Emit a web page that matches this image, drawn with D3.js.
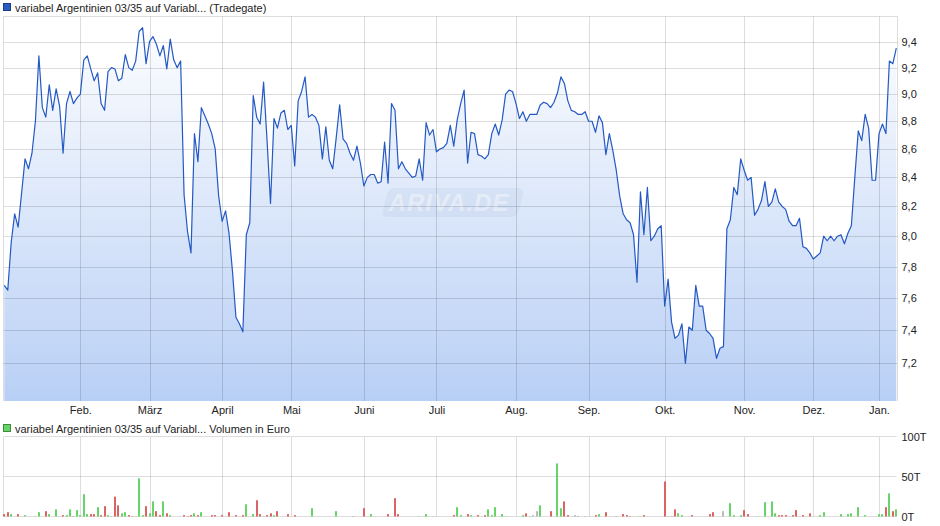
<!DOCTYPE html>
<html><head><meta charset="utf-8">
<script src="https://cdn.jsdelivr.net/npm/d3@7"></script>
<style>body{margin:0;background:#fff}svg{display:block;font-family:"Liberation Sans",Arial,sans-serif}</style>
</head><body><svg id="c" width="940" height="526"></svg>
<script>
// Daily prices (one per trading day)
const prices = [
7.68,7.65,7.96,8.15,8.06,8.29,8.53,8.46,8.57,8.80,
9.29,8.90,8.83,9.07,8.88,9.04,8.91,8.57,8.93,9.02,
8.93,8.97,9.00,9.26,9.29,9.19,9.10,9.16,8.93,8.88,
9.17,9.20,9.19,9.10,9.12,9.30,9.20,9.18,9.25,9.48,
9.51,9.23,9.40,9.44,9.38,9.29,9.37,9.19,9.42,9.26,
9.20,9.25,8.28,8.03,7.89,8.71,8.51,8.90,8.84,8.78,
8.71,8.60,8.27,8.10,8.17,8.02,7.77,7.48,7.44,7.39,
8.01,8.09,8.99,8.83,8.78,9.09,8.66,8.22,8.82,8.75,
8.86,8.88,8.74,8.77,8.48,8.95,9.02,9.13,8.83,8.85,
8.83,8.77,8.53,8.76,8.52,8.46,8.68,8.92,8.67,8.64,
8.57,8.52,8.62,8.50,8.34,8.40,8.42,8.42,8.36,8.37,
8.65,8.36,8.93,8.88,8.46,8.51,8.46,8.43,8.40,8.41,
8.53,8.38,8.79,8.70,8.74,8.58,8.60,8.61,8.64,8.77,
8.62,8.81,8.93,9.03,8.50,8.72,8.71,8.56,8.55,8.53,
8.56,8.71,8.78,8.70,8.81,9.00,9.03,9.02,8.93,8.82,
8.87,8.80,8.85,8.85,8.85,8.92,8.94,8.93,8.90,8.94,
9.01,9.13,9.08,8.95,8.88,8.87,8.85,8.85,8.87,8.80,
8.80,8.72,8.84,8.79,8.56,8.71,8.59,8.45,8.27,8.15,
8.11,8.09,8.01,7.70,8.30,8.01,8.33,7.97,8.00,8.05,
8.07,7.55,7.72,7.45,7.35,7.37,7.44,7.20,7.42,7.40,
7.68,7.55,7.55,7.40,7.38,7.35,7.23,7.29,7.30,8.05,
8.11,8.33,8.28,8.53,8.45,8.38,8.40,8.14,8.18,8.24,
8.37,8.20,8.23,8.32,8.23,8.20,8.18,8.10,8.07,8.07,
8.12,7.93,7.92,7.89,7.85,7.87,7.89,8.00,7.97,8.00,
7.97,8.00,8.01,7.95,8.02,8.07,8.40,8.73,8.66,8.85,
8.75,8.38,8.38,8.71,8.78,8.71,9.25,9.23,9.35
];
// Month labels and the trading-day index where each month starts
const monthLabels = ["Feb.","März","April","Mai","Juni","Juli","Aug.","Sep.","Okt.","Nov.","Dez.","Jan."];
const monthIdx = [22,42,63,83,104,125,148,169,191,214,234,253];
const yTicks = [7.2,7.4,7.6,7.8,8.0,8.2,8.4,8.6,8.8,9.0,9.2,9.4];
// Volume (thousand euro) on trading days with turnover; u=up, d=down, n=unchanged
const volIdx = [0,1,2,4,6,9,10,12,13,15,17,18,19,20,21,22,23,24,25,26,27,28,29,30,31,32,33,34,35,36,37,38,39,40,41,42,43,44,45,46,47,48,52,53,54,55,56,57,60,61,63,65,67,69,70,72,73,74,75,76,77,78,79,82,84,89,96,101,104,106,111,113,114,120,122,124,130,131,132,134,135,137,139,140,141,142,144,145,150,151,152,153,154,155,158,160,161,162,163,165,166,168,171,172,174,177,179,180,181,184,185,191,192,193,194,195,196,199,204,205,208,210,211,213,214,215,218,220,222,223,224,225,226,228,229,231,233,236,237,242,244,245,247,249,253,254,255,256,257,258];
const volVal = [3,5.4,3,3,1.7,0.4,5.4,6.7,3,9,1.7,1.7,9,0.4,8,1.7,28,3,3,3,11.7,1.7,13,1.7,0.4,25,14,4,5.4,1.7,0.4,0.4,48,1.7,13,4,19,6.7,1.7,19,4,1.7,1.7,0.4,1.7,4,1.7,5.4,1.7,1.7,1.7,5.4,1.7,1.7,15.4,3,20.4,3,0.4,1.7,4,1.7,6.7,3,1.7,10.4,6.7,0.4,10.4,3,3,23,3,0.4,3,0.4,1.7,11.7,1.7,3,1.7,1.7,1.7,9,1.7,11.7,3,0.4,1.7,4,0.4,1.7,6.7,14,6.7,66.7,10.4,19,1.7,1.7,0.4,0.4,1.7,3,5.4,0.4,3,1.7,0.4,0.4,1.7,44,0.4,0.4,9,4,1.7,1.7,3,5.4,6.7,16.7,1.7,1.7,8,3,0.4,18,19,4,1.7,1.7,1.7,1.7,8,1.7,4,1.7,5.4,3,3,4,11.7,1.7,3,3,11.7,29,6.7,9];
const volDir = ["d","d","u","d","u","u","u","d","u","u","d","u","u","d","u","u","u","u","d","d","u","d","d","u","u","d","d","u","u","d","d","u","u","u","d","u","u","d","d","u","d","u","d","d","d","u","d","u","d","d","d","d","d","d","u","u","d","d","u","d","d","u","d","d","d","u","u","d","d","u","d","d","d","u","u","u","d","u","u","d","u","d","d","u","u","u","u","u","u","d","u","n","n","u","d","u","u","d","d","n","d","u","d","u","d","d","d","d","d","u","d","d","u","d","d","u","u","d","d","d","n","u","u","u","d","d","u","u","u","u","d","d","d","d","d","d","d","u","u","u","u","u","u","u","u","u","d","u","d","u"];
const volTicks = [0,50,100];

const svg = d3.select("#c");
const L = 3.5, R = 897.5, T = 16.5, B = 401;
const VT = 437, VB = 516.5;
const x = d3.scaleLinear().domain([0, prices.length - 1]).range([4.3, 896.3]);
const y = d3.scaleLog().domain([7.2, 9.4]).range([363.3, 41.7]);
const yv = d3.scaleLinear().domain([0, 100]).range([VB, VT]);
const snap = v => Math.round(v) + 0.5;
const gridCol = "#000", gridOp = 0.135;

const defs = svg.append("defs");
const grad = defs.append("linearGradient").attr("id", "fillg")
  .attr("gradientUnits", "userSpaceOnUse").attr("x1", 0).attr("x2", 0).attr("y1", T).attr("y2", B);
grad.append("stop").attr("offset", 0).attr("stop-color", "#ffffff");
grad.append("stop").attr("offset", 1).attr("stop-color", "#b8cff5");

// area
svg.append("path").datum(prices)
  .attr("d", d3.area().x((d, i) => x(i)).y0(B).y1(d => y(d)))
  .attr("fill", "url(#fillg)");

// watermark
const wm = svg.append("g").attr("transform", "translate(451,202)");
wm.append("rect").attr("x", -66).attr("y", -14).attr("width", 136).attr("height", 29).attr("rx", 6)
  .attr("transform", "skewX(-14)").attr("fill", "#aebfda").attr("opacity", 0.18);
wm.append("text").attr("x", -2).attr("y", 9).attr("text-anchor", "middle")
  .attr("font-size", 24).attr("font-weight", "bold").attr("font-style", "italic")
  .attr("fill", "#ffffff").attr("opacity", 0.4).attr("letter-spacing", 1).text("ARIVA.DE");

// main grid
const g = svg.append("g");
g.selectAll(".hg").data(yTicks).enter().append("line")
  .attr("x1", L).attr("x2", R).attr("y1", d => snap(y(d))).attr("y2", d => snap(y(d)))
  .attr("stroke", gridCol).attr("stroke-opacity", gridOp);
g.selectAll(".vg").data(monthIdx).enter().append("line")
  .attr("x1", d => snap(x(d))).attr("x2", d => snap(x(d))).attr("y1", T).attr("y2", B)
  .attr("stroke", gridCol).attr("stroke-opacity", gridOp);
// borders
g.append("path").attr("d", `M${L},${B}V${T}H${R}V${B}`).attr("fill", "none")
  .attr("stroke", gridCol).attr("stroke-opacity", gridOp);

// line
svg.append("path").datum(prices)
  .attr("d", d3.line().x((d, i) => x(i)).y(d => y(d)))
  .attr("fill", "none").attr("stroke", "#2459c4").attr("stroke-width", 1.2).attr("stroke-linejoin", "round");

// axes
const fmt = d => d3.format(".1f")(d).replace(".", ",");
const ya = svg.append("g").attr("transform", `translate(${R},0)`)
  .call(d3.axisRight(y).tickValues(yTicks).tickFormat(fmt).tickSize(0).tickPadding(4));
const xa = svg.append("g").attr("transform", `translate(0,${B})`)
  .call(d3.axisBottom(x).tickValues(monthIdx).tickFormat((d, i) => monthLabels[i]).tickSize(0).tickPadding(5));
const va = svg.append("g").attr("transform", `translate(${R},0)`)
  .call(d3.axisRight(yv).tickValues(volTicks).tickFormat(d => d + "T").tickSize(0).tickPadding(4));
[ya, xa, va].forEach(a => {
  a.select(".domain").remove();
  a.selectAll("text").attr("font-size", 11).attr("fill", "#222").attr("font-family", '"Liberation Sans",Arial,sans-serif');
});

// volume grid
const vg = svg.append("g");
vg.selectAll(".vh").data(volTicks).enter().append("line")
  .attr("x1", L).attr("x2", R - 1).attr("y1", d => snap(yv(d)) - 1).attr("y2", d => snap(yv(d)) - 1)
  .attr("stroke", gridCol).attr("stroke-opacity", gridOp);
vg.selectAll(".vv").data(monthIdx).enter().append("line")
  .attr("x1", d => snap(x(d))).attr("x2", d => snap(x(d))).attr("y1", VT).attr("y2", VB)
  .attr("stroke", gridCol).attr("stroke-opacity", gridOp);
vg.append("line").attr("x1", L).attr("x2", L).attr("y1", VT).attr("y2", VB)
  .attr("stroke", gridCol).attr("stroke-opacity", gridOp);

// volume bars
const colors = {u: "#66d466", d: "#d96464", n: "#bbbbbb"};
svg.append("g").selectAll("rect").data(volIdx).enter().append("rect")
  .attr("x", d => Math.round(x(d)) - 1).attr("width", 2)
  .attr("y", (d, i) => yv(volVal[i])).attr("height", (d, i) => yv(0) - yv(volVal[i]))
  .attr("fill", (d, i) => colors[volDir[i]]);

// legends
svg.append("rect").attr("x", 3.5).attr("y", 3.5).attr("width", 7).attr("height", 7)
  .attr("fill", "#2a5cc0").attr("stroke", "#1a3d8a");
svg.append("text").attr("x", 15).attr("y", 12).attr("font-size", 11).attr("fill", "#222")
  .text("variabel Argentinien 03/35 auf Variabl... (Tradegate)");
svg.append("rect").attr("x", 3.5).attr("y", 424.5).attr("width", 7).attr("height", 7)
  .attr("fill", "#66d466").attr("stroke", "#3c8c3c");
svg.append("text").attr("x", 15).attr("y", 432.5).attr("font-size", 11).attr("fill", "#222")
  .text("variabel Argentinien 03/35 auf Variabl... Volumen in Euro");
</script>
</body></html>
